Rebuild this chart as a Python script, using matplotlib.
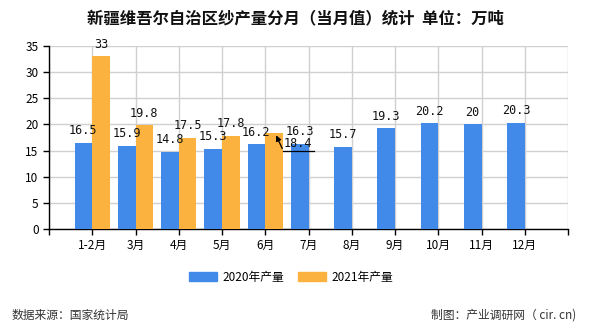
import matplotlib
matplotlib.use("Agg")
import matplotlib.pyplot as plt
from matplotlib.patches import Patch

plt.rcParams['font.family'] = ['Noto Sans CJK SC', 'DejaVu Sans']

categories = ['1-2月', '3月', '4月', '5月', '6月', '7月', '8月', '9月', '10月', '11月', '12月']
prod_2020 = [16.5, 15.9, 14.8, 15.3, 16.2, 16.3, 15.7, 19.3, 20.2, 20, 20.3]
prod_2021 = [33, 19.8, 17.5, 17.8, 18.4]
series_names = ['2020年产量', '2021年产量']
title = '新疆维吾尔自治区纱产量分月（当月值）统计  单位：万吨'

c_blue = '#418AE9'
c_orange = '#FBB23E'

fig = plt.figure(figsize=(5.9, 3.3), dpi=100)
W, H = 590, 330
ax = fig.add_axes([49 / W, (H - 229) / H, (568 - 49) / W, (229 - 46) / H])

bw = 0.41
x1 = list(range(len(prod_2020)))
x2 = list(range(len(prod_2021)))
ax.bar([x - bw / 2 for x in x1], prod_2020, width=bw, color=c_blue, zorder=3)
ax.bar([x + bw / 2 for x in x2], prod_2021, width=bw, color=c_orange, zorder=3)

num_font = dict(family=['DejaVu Sans Mono'], fontsize=8.5, color='#111111')
for x, v in zip(x1, prod_2020):
    ax.annotate(f'{v:g}', (x - bw / 2, v), xytext=(0, 4), textcoords='offset points',
                ha='center', va='bottom', zorder=5, **num_font)
for i, (x, v) in enumerate(zip(x2, prod_2021)):
    if i == 4:
        continue
    ax.annotate(f'{v:g}', (x + bw / 2, v), xytext=(0, 4), textcoords='offset points',
                ha='center', va='bottom', zorder=5, **num_font)

# displaced label with leader line for 6月 2021
xi = 4
vi = prod_2021[xi]
ax.annotate('', xy=(xi + bw / 2 + 0.02, vi), xytext=(xi + 0.42, vi - 3.5),
            arrowprops=dict(arrowstyle='-|>', color='black', lw=0.9, mutation_scale=8),
            zorder=6)
ax.plot([xi + 0.42, xi + 1.12], [vi - 3.5, vi - 3.5], color='black', lw=0.9, zorder=6)
ax.text(xi + 0.76, vi - 3.3, f'{vi:g}', ha='center', va='bottom', zorder=6, **num_font)

ax.set_xlim(-1, 11)
ax.set_ylim(0, 35)
ax.set_yticks(range(0, 36, 5))
ax.set_xticks(range(-1, 12))
ax.set_xticklabels([''] + categories + [''])
ax.tick_params(axis='both', labelsize=8.5, length=4, width=1, direction='out', colors='black')
ax.grid(True, color='#d0d0d0', lw=1, zorder=0)
for s in ['top', 'right']:
    ax.spines[s].set_visible(False)
for s in ['left', 'bottom']:
    ax.spines[s].set_color('black')
    ax.spines[s].set_linewidth(1)

fig.text(295 / W, 1 - 18 / H, title, ha='center', va='center', fontsize=11.8, fontweight='bold',
         color='#111111')

handles = [Patch(color=c_blue), Patch(color=c_orange)]
fig.legend(handles, series_names, loc='center', bbox_to_anchor=(291 / W, 1 - 277 / H), ncol=2,
           frameon=False, fontsize=8.5, handlelength=2.4, handleheight=0.9, columnspacing=1.2,
           handletextpad=0.4)

fig.text(12 / W, 1 - 315 / H, '数据来源：国家统计局', ha='left', va='center', fontsize=8.5, color='#333333')
fig.text(576 / W, 1 - 315 / H, '制图：产业调研网（ cir. cn)', ha='right', va='center', fontsize=8.5, color='#333333')

fig.savefig('out.png', dpi=100)
